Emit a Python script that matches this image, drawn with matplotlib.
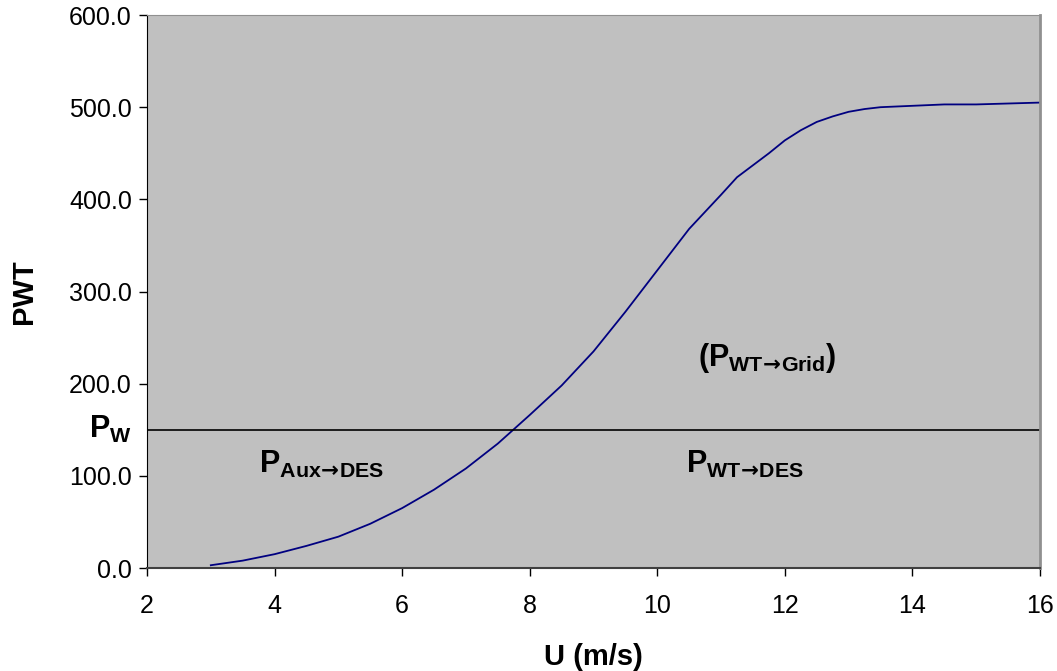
import matplotlib
matplotlib.use("Agg")
import matplotlib.pyplot as plt
from matplotlib.ticker import FormatStrFormatter

plt.rcParams['font.family'] = ['Liberation Sans', 'DejaVu Sans']
plt.rcParams['mathtext.fontset'] = 'custom'
plt.rcParams['mathtext.rm'] = 'Liberation Sans'
plt.rcParams['mathtext.bf'] = 'Liberation Sans:bold'
plt.rcParams['mathtext.it'] = 'Liberation Sans:italic'
plt.rcParams['mathtext.sf'] = 'DejaVu Sans:bold'

# wind speed (m/s) and turbine power
u = [3, 3.5, 4, 4.5, 5, 5.5, 6, 6.5, 7, 7.5, 8, 8.5, 9, 9.5, 10, 10.5, 11,
     11.25, 11.75, 12, 12.25, 12.5, 12.75, 13, 13.25, 13.5, 14, 14.5, 15, 16]
pwt = [3, 8, 15, 24, 34, 48, 65, 85, 108, 135, 166, 198, 235, 278, 323, 368,
       405, 424, 450, 464, 475, 484, 490, 495, 498, 500, 501.5, 503, 503, 505]
p_w = 150.0

fig = plt.figure(figsize=(10.57, 6.71), dpi=100)
ax = fig.add_axes([0.1391, 0.1535, 0.8448, 0.8241])
ax.set_facecolor('#c0c0c0')

ax.plot(u, pwt, color='#000080', lw=1.3)
ax.plot([2, 16], [p_w, p_w], color='black', lw=1.2)

ax.set_xlim(2, 16)
ax.set_ylim(0, 600)
ax.set_xticks(range(2, 17, 2))
ax.set_yticks(range(0, 601, 100))
ax.yaxis.set_major_formatter(FormatStrFormatter('%.1f'))
ax.tick_params(direction='out', length=6, width=1, labelsize=18, pad=5)
ax.tick_params(axis='x', pad=13)

ax.spines['top'].set_color('#909090')
ax.spines['right'].set_color('#909090')
ax.spines['right'].set_linewidth(2)
ax.spines['left'].set_color('black')
ax.spines['bottom'].set_color('#404040')
ax.spines['bottom'].set_linewidth(1.5)

ax.set_xlabel('U (m/s)', fontsize=21, fontweight='bold', labelpad=18)
ax.set_ylabel('PWT', fontsize=21, fontweight='bold', labelpad=22)

arr = r'\!\mathsf{\rightarrow}\!'
kw = dict(fontsize=22, ha='center', va='center')
ax.text(1.42, 150, r'$\mathbf{P}_{\mathbf{W}}$', clip_on=False, **kw)
ax.text(4.74, 112, r'$\mathbf{P}_{\mathbf{Aux}' + arr + r'\mathbf{DES}}$', **kw)
ax.text(11.73, 228, r'$\mathbf{(P}_{\mathbf{WT}' + arr + r'\mathbf{Grid}}\mathbf{)}$', **kw)
ax.text(11.37, 112, r'$\mathbf{P}_{\mathbf{WT}' + arr + r'\mathbf{DES}}$', **kw)

fig.savefig('out.png', dpi=100)
